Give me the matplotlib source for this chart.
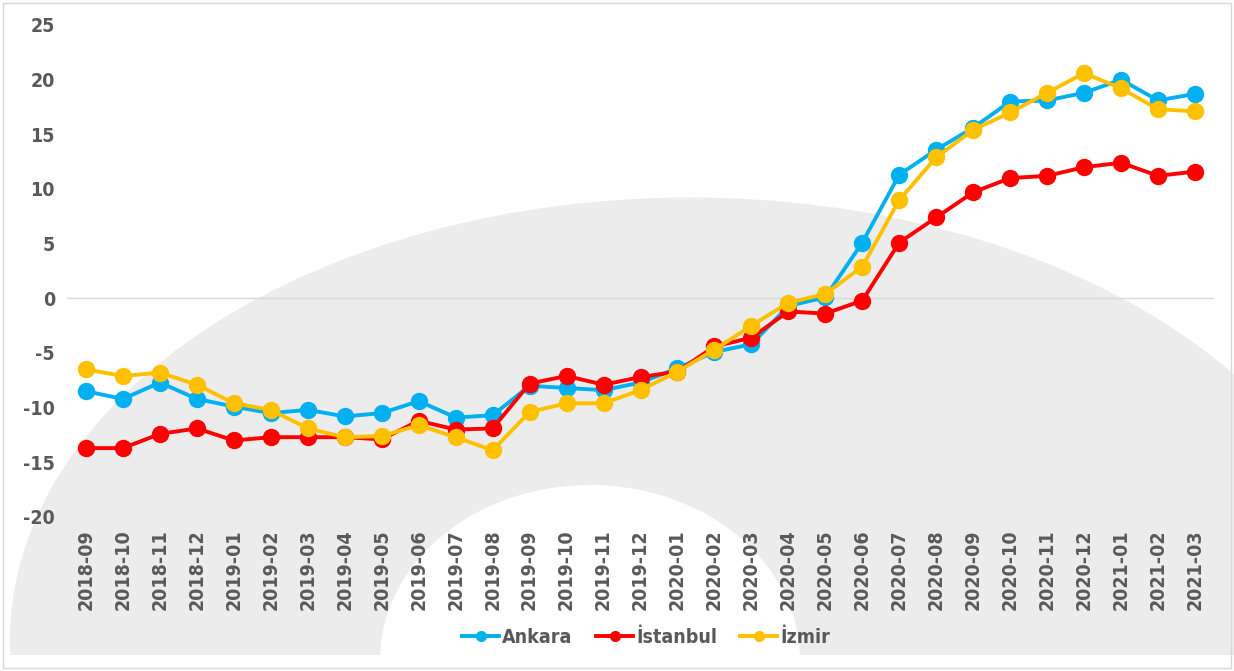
import matplotlib.pyplot as plt
from matplotlib.patches import Ellipse, Rectangle, FancyBboxPatch
from matplotlib.lines import Line2D
from matplotlib import font_manager

plt.rcParams['axes.unicode_minus'] = False

months = ['2018-09', '2018-10', '2018-11', '2018-12', '2019-01', '2019-02', '2019-03',
          '2019-04', '2019-05', '2019-06', '2019-07', '2019-08', '2019-09', '2019-10',
          '2019-11', '2019-12', '2020-01', '2020-02', '2020-03', '2020-04', '2020-05',
          '2020-06', '2020-07', '2020-08', '2020-09', '2020-10', '2020-11', '2020-12',
          '2021-01', '2021-02', '2021-03']

ankara = [-8.5, -9.2, -7.7, -9.2, -9.9, -10.5, -10.2, -10.8, -10.5, -9.4, -10.9, -10.7,
          -8.0, -8.2, -8.4, -7.7, -6.4, -4.9, -4.2, -0.7, 0.1, 5.1, 11.3, 13.6, 15.6,
          18.0, 18.1, 18.8, 20.0, 18.1, 18.7]
istanbul = [-13.7, -13.7, -12.4, -11.9, -13.0, -12.7, -12.7, -12.7, -12.9, -11.2, -12.0, -11.9,
            -7.8, -7.1, -7.9, -7.2, -6.7, -4.4, -3.6, -1.2, -1.4, -0.2, 5.1, 7.4, 9.7,
            11.0, 11.2, 12.0, 12.4, 11.2, 11.6]
izmir = [-6.5, -7.1, -6.8, -7.9, -9.6, -10.2, -11.9, -12.7, -12.6, -11.6, -12.7, -13.9,
         -10.4, -9.6, -9.6, -8.4, -6.7, -4.7, -2.5, -0.4, 0.4, 2.9, 9.0, 12.9, 15.4,
         17.0, 18.8, 20.6, 19.2, 17.3, 17.1]

series = [('Ankara', ankara, '#00B0F0'),
          ('İstanbul', istanbul, '#FF0000'),
          ('İzmir', izmir, '#FFC000')]

# a narrow font if one is there
names = {f.name for f in font_manager.fontManager.ttflist}
if 'Liberation Sans Narrow' in names:
    fam, stretch = 'Liberation Sans Narrow', 'normal'
else:
    fam, stretch = 'DejaVu Sans', 'condensed'
grey = '#595959'

fig = plt.figure(figsize=(12.34, 6.71), dpi=100)

# watermark shape in the background (figure pixels)
W, H = 1234, 671
bg = fig.add_axes([0, 0, 1, 1], zorder=0)
bg.set_xlim(0, W)
bg.set_ylim(H, 0)
bg.axis('off')
bg.add_patch(Ellipse((690, 640), 1360, 885, color='#ececec', lw=0))
bg.add_patch(FancyBboxPatch((810, 420), 400, 215, boxstyle='round,pad=0,rounding_size=25',
                            color='#ececec', lw=0))
bg.add_patch(Ellipse((590, 660), 420, 350, color='white', lw=0))
bg.add_patch(Rectangle((0, 655), W, 20, color='white', lw=0))
bg.add_patch(Rectangle((3, 3), W - 6, H - 6, fill=False, ec='#d9d9d9', lw=1))

ax = fig.add_axes([0.0547, 1 - 517 / 671, 0.9834 - 0.0547, (517 - 25) / 671], zorder=1)
ax.patch.set_alpha(0)
x = list(range(len(months)))
ax.axhline(0, color='#d9d9d9', lw=1, zorder=1)
for name, vals, col in series:
    ax.plot(x, vals, color=col, lw=2.8, marker='o', ms=11.5, label=name, zorder=3)

ax.set_xlim(-0.5, len(months) - 0.5)
ax.set_ylim(-20, 25)
ax.set_yticks(range(-20, 30, 5))
ax.set_xticks(x)
ax.set_xticklabels(months, rotation=90)
for s in ax.spines.values():
    s.set_visible(False)
ax.tick_params(length=0, pad=9)
for lab in ax.get_yticklabels() + ax.get_xticklabels():
    lab.set_fontfamily(fam)
    lab.set_fontstretch(stretch)
    lab.set_fontweight('bold')
    lab.set_fontsize(14)
    lab.set_color(grey)

handles = [Line2D([], [], color=c, lw=2.8, marker='o', ms=7) for _, _, c in series]
leg = ax.legend(handles, [n for n, _, _ in series], loc='center', bbox_to_anchor=(0.505, -0.245),
                ncol=3, frameon=False, handlelength=1.9, columnspacing=1.2, handletextpad=0.15,
                prop={'family': fam, 'stretch': stretch, 'weight': 'bold', 'size': 14})
for t in leg.get_texts():
    t.set_color(grey)

fig.savefig('out.png', dpi=100)
